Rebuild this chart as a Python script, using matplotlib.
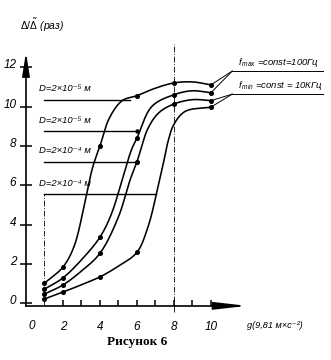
import numpy as np
import matplotlib
matplotlib.use("Agg")
import matplotlib.pyplot as plt
from matplotlib.transforms import ScaledTranslation

# Relative displacement Δ/Δ̃ versus acceleration g, four particle sizes D
curve_a_x = [1, 2, 2.6, 3.2, 3.6, 4, 4.5, 5.2, 6, 6.9, 8, 9, 10]
curve_a_y = [1.03, 1.85, 2.9, 5.2, 6.9, 8.0, 9.4, 10.3, 10.55, 10.9, 11.2, 11.25, 11.1]
curve_a_dots = [1, 2, 4, 6, 8, 10]

curve_b_x = [1, 2, 3.1, 4, 4.6, 5.2, 5.7, 6, 6.8, 8, 9, 10]
curve_b_y = [0.73, 1.3, 2.32, 3.37, 4.5, 6.27, 7.8, 8.4, 10.0, 10.6, 10.8, 10.7]
curve_b_dots = [1, 2, 4, 6, 8, 10]

curve_c_x = [1, 2, 3, 4, 5, 5.6, 6, 6.6, 7.2, 8, 9, 10]
curve_c_y = [0.48, 0.94, 1.65, 2.55, 4.4, 6.2, 7.2, 8.9, 9.7, 10.13, 10.35, 10.3]
curve_c_dots = [1, 2, 4, 6, 8, 10]

curve_d_x = [1, 2, 3, 4, 5, 6, 6.6, 7.05, 7.4, 7.7, 8, 8.6, 10]
curve_d_y = [0.23, 0.58, 0.95, 1.35, 1.9, 2.6, 3.9, 5.55, 7.0, 8.3, 9.1, 9.75, 9.97]
curve_d_dots = [1, 2, 4, 6, 10]

# Reference lines for the particle sizes
size_labels = ["D=2×10⁻⁵ м", "D=2×10⁻⁵ м", "D=2×10⁻⁴ м", "D=2×10⁻⁴ м"]
size_levels = [10.35, 8.75, 7.2, 5.55]
size_line_ends = [5.6, 6.0, 6.0, 7.05]

y_ticks = [0, 2, 4, 6, 8, 10, 12]
x_ticks = [2, 3, 4, 5, 6, 7, 8, 9, 10]
x_tick_labels = ["2", "", "4", "", "6", "", "8", "", "10"]

freq_labels = ["$f_{\\,max}$ =const=100Гц", "$f_{\\,min}$ =const = 10КГц"]

plt.rcParams["font.family"] = ["Liberation Sans", "DejaVu Sans"]
plt.rcParams["mathtext.fontset"] = "custom"
plt.rcParams["mathtext.it"] = "Liberation Sans:italic"
plt.rcParams["mathtext.rm"] = "Liberation Sans"


def smooth(xs, ys, n=24):
    """Centripetal Catmull-Rom curve through the given points."""
    P = np.column_stack([xs, ys]).astype(float)
    P = np.vstack([2 * P[0] - P[1], P, 2 * P[-1] - P[-2]])
    out = []
    for i in range(1, len(P) - 2):
        p0, p1, p2, p3 = P[i - 1:i + 3]
        t0 = 0.0
        t1 = t0 + np.linalg.norm(p1 - p0) ** 0.5
        t2 = t1 + np.linalg.norm(p2 - p1) ** 0.5
        t3 = t2 + np.linalg.norm(p3 - p2) ** 0.5
        t = np.linspace(t1, t2, n)[:, None]
        a1 = (t1 - t) / (t1 - t0) * p0 + (t - t0) / (t1 - t0) * p1
        a2 = (t2 - t) / (t2 - t1) * p1 + (t - t1) / (t2 - t1) * p2
        a3 = (t3 - t) / (t3 - t2) * p2 + (t - t2) / (t3 - t2) * p3
        b1 = (t2 - t) / (t2 - t0) * a1 + (t - t0) / (t2 - t0) * a2
        b2 = (t3 - t) / (t3 - t1) * a2 + (t - t1) / (t3 - t1) * a3
        out.append((t2 - t) / (t2 - t1) * b1 + (t - t1) / (t2 - t1) * b2)
    C = np.vstack(out)
    return C[:, 0], C[:, 1]


fig = plt.figure(figsize=(3.31, 3.6), dpi=100)
ax = fig.add_axes([0, 0, 1, 1])
ax.set_xlim(-1.405, 16.49)
ax.set_ylim(-2.87, 15.41)
ax.patch.set_alpha(0)

# Axes as spines crossing at the origin
for s in ("top", "right"):
    ax.spines[s].set_visible(False)
ax.spines["left"].set_position(("data", 0))
ax.spines["left"].set_bounds(-0.12, 12.2)
ax.spines["bottom"].set_position(("data", -0.12))
ax.spines["bottom"].set_bounds(0, 11.3)
ax.spines["left"].set_linewidth(1.2)
ax.spines["bottom"].set_linewidth(1.2)

ax.set_yticks(y_ticks)
ax.set_yticklabels([str(v) for v in y_ticks], style="italic", fontsize=8.5)
ax.set_xticks(x_ticks)
ax.set_xticklabels(x_tick_labels, style="italic", fontsize=8.5)
ax.tick_params(axis="y", direction="inout", length=9, width=1.1, pad=2.5)
ax.tick_params(axis="x", direction="in", length=4.5, width=1.1, pad=11)
for lab in ax.get_yticklabels():
    lab.set_transform(lab.get_transform() + ScaledTranslation(0, 0.035, fig.dpi_scale_trans))
ax.text(0.33, -1.14, "0", style="italic", fontsize=8.5, ha="center", va="center")

# Arrow heads on the axes
ax.annotate("", xy=(0, 12.75), xytext=(0, 11.9),
            arrowprops=dict(arrowstyle="-|>,head_length=1.0,head_width=0.16",
                            lw=1.2, color="k", mutation_scale=14, shrinkA=0, shrinkB=0))
ax.annotate("", xy=(11.95, -0.12), xytext=(11.0, -0.12),
            arrowprops=dict(arrowstyle="-|>,head_length=1.4,head_width=0.16",
                            lw=1.2, color="k", mutation_scale=14, shrinkA=0, shrinkB=0))

# Dash-dot construction lines
ax.plot([1, 1], [-0.12, 5.55], color="k", lw=0.6, ls=(0, (7, 2, 1, 2)))
ax.plot([8, 8], [-0.45, 13.2], color="k", lw=0.6, ls=(0, (7, 2, 1, 2)))

# Curves with their measured points
curves = [
    (curve_a_x, curve_a_y, curve_a_dots),
    (curve_b_x, curve_b_y, curve_b_dots),
    (curve_c_x, curve_c_y, curve_c_dots),
    (curve_d_x, curve_d_y, curve_d_dots),
]
ends = []
for xs, ys, dots in curves:
    sx, sy = smooth(xs, ys)
    ax.plot(sx, sy, color="k", lw=1.15, solid_capstyle="round")
    dy = [ys[xs.index(d)] for d in dots]
    ax.plot(dots, dy, "o", color="k", ms=2.6)
    ends.append((xs[-1], ys[-1]))

# Particle size lines and labels
for lab, lev, xe in zip(size_labels, size_levels, size_line_ends):
    ax.plot([1, xe], [lev, lev], color="k", lw=1.0)
    ax.text(0.7, lev + 0.55, lab, style="italic", fontsize=6.8, ha="left", va="center")
ax.plot([6, 6], [8.75, 7.2], "o", color="k", ms=2.2)

# Frequency annotations with leader lines
ly = [11.8, 10.63]
for i, (txt, yl) in enumerate(zip(freq_labels, ly)):
    ax.plot([11.15, 16.05], [yl, yl], color="k", lw=0.7)
    for (ex, ey) in ends[2 * i:2 * i + 2]:
        ax.plot([11.15, ex], [yl, ey], color="k", lw=0.7)
    ax.text(11.45, yl + 0.12, txt, style="italic", fontsize=6.8, ha="left", va="bottom")

# Axis titles
ax.text(-0.3, 14.1, r"$\Delta/\tilde{\Delta}$ (раз)", style="italic", fontsize=7.5,
        ha="left", va="center")
ax.text(11.95, -1.14, "g(9,81 м×с⁻²)", style="italic", fontsize=6.6,
        ha="left", va="center")

ax.text(6.0, -1.95, "Рисунок 6", family=["Liberation Serif", "DejaVu Serif"],
        weight="bold", fontsize=9.5, ha="center", va="center")

fig.savefig("out.png", dpi=100, facecolor="white")
